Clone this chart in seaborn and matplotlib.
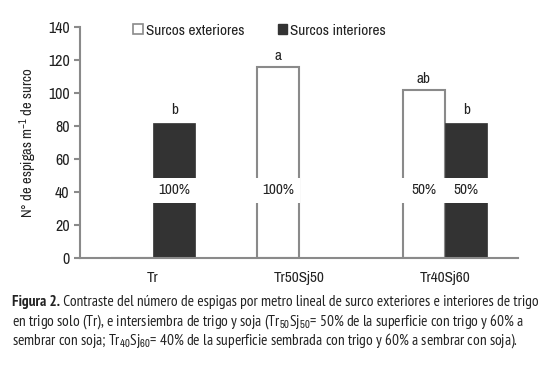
import pandas as pd
import matplotlib
matplotlib.use("Agg")
import matplotlib.pyplot as plt
from matplotlib.patches import Patch, Rectangle
import seaborn as sns

# datos del gráfico
tratamientos = ["Tr", "Tr50Sj50", "Tr40Sj60"]
surcos_ext = [0, 116, 102]
surcos_int = [82, 0, 82]
letras_ext = ["", "a", "ab"]
letras_int = ["b", "", "b"]
pct_ext = ["", "100%", "50%"]
pct_int = ["100%", "", "50%"]

df = pd.DataFrame({
    "trat": tratamientos * 2,
    "valor": surcos_ext + surcos_int,
    "surco": ["Surcos exteriores"] * 3 + ["Surcos interiores"] * 3,
})

sns.set_style("white")
plt.rcParams["font.family"] = ["Archivo Narrow", "DejaVu Sans"]
plt.rcParams["mathtext.fontset"] = "custom"
plt.rcParams["mathtext.rm"] = "Archivo Narrow"
plt.rcParams["mathtext.it"] = "Archivo Narrow"

cap_font = ["PT Sans Narrow", "Archivo Narrow", "DejaVu Sans"]

gris = "#8a8a8a"
texto = "#222222"

fig = plt.figure(figsize=(5.54, 3.67), dpi=100)
ax = fig.add_axes([0.1444, 0.297, 0.7906, 0.629])

sns.barplot(data=df, x="trat", y="valor", hue="surco",
            palette=["white", "#333333"], width=0.58, saturation=1,
            ax=ax, legend=False)

ext, inn = ax.containers[0], ax.containers[1]
for p in ext:
    p.set_edgecolor(gris)
    p.set_linewidth(1.5)
for p in inn:
    p.set_edgecolor("#333333")
    p.set_linewidth(0.5)

ax.bar_label(ext, labels=letras_ext, padding=3, fontsize=11, color=texto)
ax.bar_label(inn, labels=letras_int, padding=4, fontsize=11, color=texto)

# etiquetas de porcentaje con banda blanca
for cont, pcts in [(ext, pct_ext), (inn, pct_int)]:
    for p, s in zip(cont, pcts):
        if s:
            ax.add_patch(Rectangle((p.get_x() - 0.01, 33.5), p.get_width() + 0.02, 15,
                                   fc="white", ec="none", zorder=4))
            ax.text(p.get_x() + p.get_width() / 2, 41, s, ha="center", va="center",
                    fontsize=11, color=texto, zorder=5)

ax.set_ylim(0, 140)
ax.set_xlim(-0.5, 2.5)
ax.set_yticks(range(0, 141, 20))
ax.set_xlabel("")
ax.set_ylabel(r"N° de espigas m$^{-1}$ de surco", fontsize=10.5, color=texto, labelpad=6)
ax.set_xticks(range(3))
ax.set_xticklabels(tratamientos)
ax.set_xticks([0.5, 1.5, 2.5], minor=True)
ax.tick_params(axis="x", which="major", length=0, pad=9, labelsize=11, labelcolor=texto)
ax.tick_params(axis="x", which="minor", length=4, width=1.5, color=gris, direction="out")
ax.tick_params(axis="y", length=4, width=1.5, color=gris, labelsize=11.5, labelcolor=texto, left=True)
sns.despine(ax=ax)
for s in ["left", "bottom"]:
    ax.spines[s].set_color(gris)
    ax.spines[s].set_linewidth(1.5)

handles = [Patch(fc="white", ec=gris, lw=1.2, label="Surcos exteriores"),
           Patch(fc="#333333", ec="#333333", label="Surcos interiores")]
ax.legend(handles=handles, loc="upper center", bbox_to_anchor=(0.41, 1.075), ncol=2,
          frameon=False, fontsize=11, handlelength=0.6, handleheight=0.6,
          handletextpad=0.2, columnspacing=2.2, labelcolor=texto)

# leyenda de la figura
fs = 11.1
x0 = 0.022
t1 = fig.text(x0, 1 - 306 / 367, "Figura 2.", fontsize=fs, fontweight="bold",
              family=cap_font, color=texto)
ax.annotate(" Contraste del número de espigas por metro lineal de surco exteriores e interiores de trigo",
            xy=(1, 0), xycoords=t1, fontsize=fs, family=cap_font, color=texto, va="bottom")
fig.text(x0, 1 - 326 / 367,
         r"en trigo solo (Tr), e intersiembra de trigo y soja (Tr$_{50}$Sj$_{50}$= 50% de la superficie con trigo y 60% a",
         fontsize=fs, family=cap_font, color=texto)
fig.text(x0, 1 - 345 / 367,
         r"sembrar con soja; Tr$_{40}$Sj$_{60}$= 40% de la superficie sembrada con trigo y 60% a sembrar con soja).",
         fontsize=fs, family=cap_font, color=texto)

fig.savefig("out.png", dpi=100)
